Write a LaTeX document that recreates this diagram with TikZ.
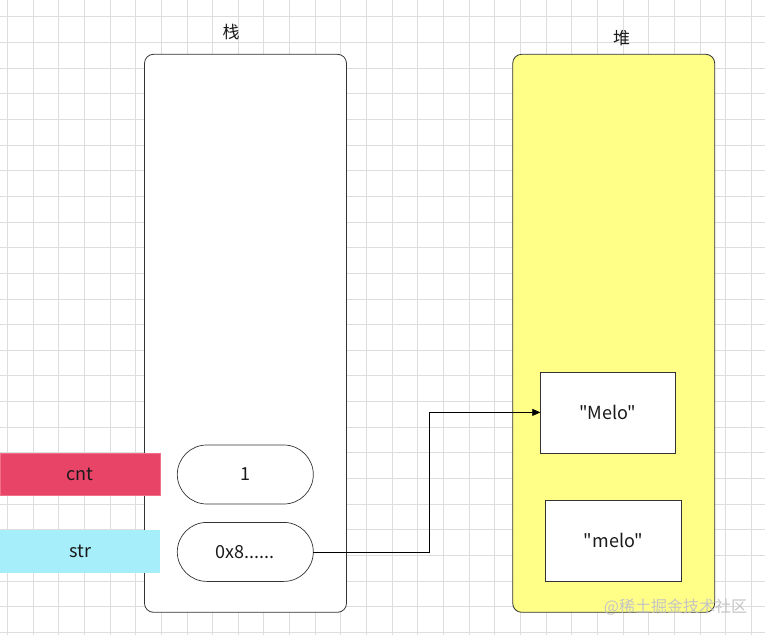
\documentclass[tikz,border=0pt]{standalone}
\usepackage{fontspec}
\setmainfont{Noto Sans CJK SC}[Ligatures=TeXOff]
\usetikzlibrary{arrows.meta}
\definecolor{gridc}{HTML}{DDDDDD}
\definecolor{strokec}{HTML}{333333}
\definecolor{heapfill}{HTML}{FFFF88}
\definecolor{redbar}{HTML}{E84468}
\definecolor{redbord}{HTML}{F0708C}
\definecolor{bluebar}{HTML}{A6EEFA}
\definecolor{txtc}{HTML}{1A1A1A}
\definecolor{wmark}{HTML}{C4C4C4}
\tikzset{
  every node/.style={inner sep=0pt, outer sep=0pt, text=txtc},
  txt/.style={font=\fontsize{18bp}{21bp}\selectfont},
  bigbox/.style={draw=strokec, line width=0.8bp, rounded corners=9bp, minimum width=202bp, minimum height=558bp},
  pill/.style={draw=strokec, line width=0.7bp, fill=white, rounded corners=29.5bp, minimum width=136bp, minimum height=59bp, txt},
  valbox/.style={draw=strokec, line width=0.8bp, fill=white, minimum height=81bp, txt},
  bar/.style={minimum width=160bp, minimum height=42.5bp, txt},
  conn/.style={draw=black, line width=0.8bp},
}
\begin{document}
\begin{tikzpicture}[x=1bp,y=-1bp]
\useasboundingbox (0,0) rectangle (765,635);
\fill[white] (0,0) rectangle (765,635);
% grid
\foreach \k in {0,...,29} {\draw[gridc, line width=0.7bp] ({7.3+25.65*\k},0) -- ({7.3+25.65*\k},635);}
\foreach \k in {0,...,24} {\draw[gridc, line width=0.7bp] (0,{16.7+25.65*\k}) -- (765,{16.7+25.65*\k});}
% containers
\node[bigbox, fill=white] (stack) at (245.5,333.3) {};
\node[bigbox, fill=heapfill] (heap) at (613.7,333.3) {};
\node[font=\fontsize{17bp}{20bp}\selectfont] (stacklbl) at (231,31.7) {栈};
\node[font=\fontsize{17bp}{20bp}\selectfont] (heaplbl) at (621.7,38.3) {堆};
% variable bars
\node[bar, fill=redbar, draw=redbord, line width=0.6bp] (cnt) at (80.2,474.5) {cnt};
\node[bar, fill=bluebar] (str) at (80.2,551.4) {str};
% stack values
\node[pill] (v1) at (245.3,474.5) {1};
\node[pill] (v2) at (245.3,551.9) {0x8......};
% heap values
\node[valbox, minimum width=135bp] (Melo) at (607.8,412.4) {"Melo"};
\node[valbox, minimum width=136.4bp] (melo) at (613.5,540.9) {"melo"};
% connector
\coordinate (bend) at (429.3,0);
\draw[conn, -{Triangle[length=8bp,width=7bp]}] (v2.east) -- (v2.east -| bend) |- (Melo.west);
% watermark
\node[text=wmark, font=\fontsize{16bp}{18bp}\selectfont, anchor=east] (wm) at (747,607) {@稀土掘金技术社区};
\end{tikzpicture}
\end{document}
